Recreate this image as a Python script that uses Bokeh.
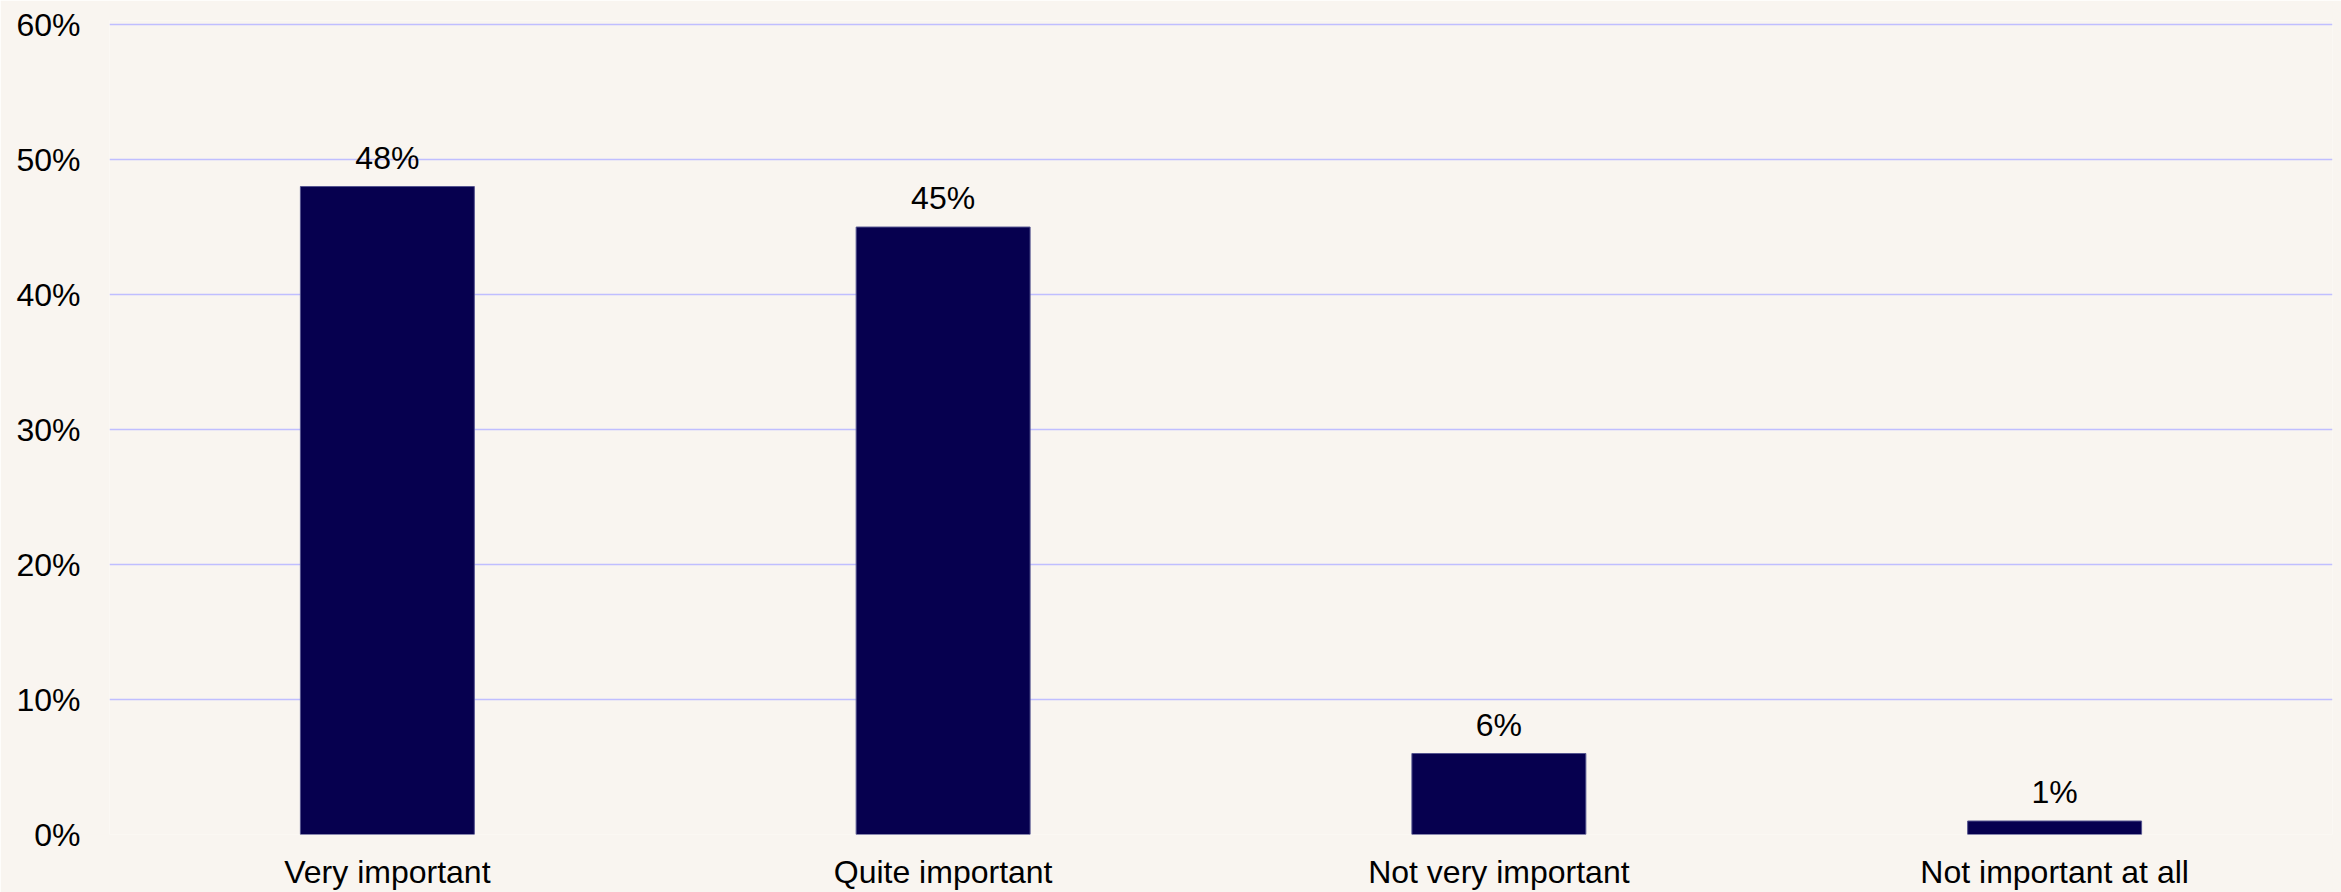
from bokeh.plotting import figure
from bokeh.models import ColumnDataSource, PrintfTickFormatter, FixedTicker, Range1d
from bokeh.core.properties import value
from bokeh.embed import file_html
from bokeh.resources import INLINE

categories = ["Very important", "Quite important", "Not very important", "Not important at all"]
values = [48, 45, 6, 1]
labels = ["48%", "45%", "6%", "1%"]
y_ticks = [0, 10, 20, 30, 40, 50, 60]

BG = "#F9F5F0"
BAR = "#06004F"
GRID = "#C0BEFF"
FONT = "Liberation Sans"
FS = "32px"

src = ColumnDataSource(dict(cat=categories, val=values, lab=labels))

p = figure(
    x_range=categories,
    y_range=Range1d(0, 60.3),
    width=2341,
    height=892,
    output_backend="svg",
    toolbar_location=None,
    background_fill_color=BG,
    border_fill_color=BG,
    min_border_left=109,
    min_border_right=9,
    min_border_top=20,
    min_border_bottom=58,
)
p.outline_line_color = None

p.vbar(x="cat", top="val", width=0.313, source=src,
       fill_color=BAR, line_color="#55548F", line_width=1)

p.text(x="cat", y="val", text="lab", source=src,
       text_align="center", text_baseline="middle", y_offset=-29,
       text_font=value(FONT), text_font_size=FS, text_color="#000000")

p.xgrid.grid_line_color = None
p.ygrid.grid_line_color = GRID
p.ygrid.grid_line_width = 1.6
p.yaxis.ticker = FixedTicker(ticks=y_ticks)
p.yaxis.formatter = PrintfTickFormatter(format="%d%%")

for ax in (p.xaxis[0], p.yaxis[0]):
    ax.axis_line_color = None
    ax.major_tick_line_color = None
    ax.minor_tick_line_color = None
    ax.major_tick_in = 0
    ax.major_tick_out = 0
    ax.minor_tick_in = 0
    ax.minor_tick_out = 0
    ax.major_label_text_font = FONT
    ax.major_label_text_font_size = FS
    ax.major_label_text_color = "#000000"

p.yaxis.major_label_standoff = 29
p.xaxis.major_label_standoff = 19

html = file_html(p, INLINE)
html = html.replace("<body>", '<body style="background:%s">' % BG, 1)
open("out.html", "w").write(html)
